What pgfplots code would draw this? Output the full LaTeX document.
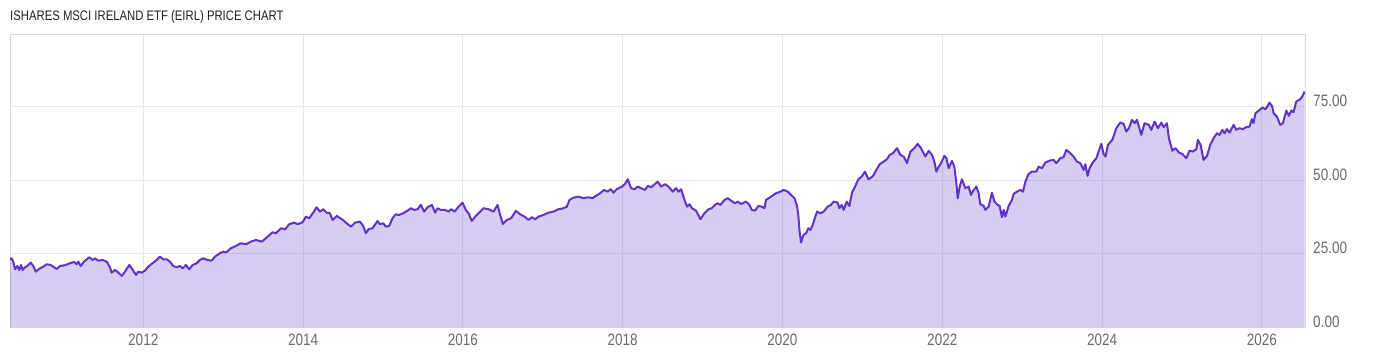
\documentclass[border=0pt]{standalone}
\usepackage{fontspec}
\setmainfont[FakeStretch=0.82]{Liberation Sans}
\usepackage{pgfplots}
\usepackage{pgfplotstable}
\pgfplotsset{compat=1.18}
\definecolor{linec}{RGB}{96,50,200}
\definecolor{gridc}{RGB}{232,232,232}
\definecolor{framec}{RGB}{215,215,215}
\definecolor{tickc}{RGB}{105,105,105}
\pgfplotstableread{
x y
2010.332 23.0
2010.353 23.42
2010.373 22.26
2010.395 19.67
2010.423 20.80
2010.448 19.43
2010.470 21.14
2010.491 19.43
2010.520 20.35
2010.549 20.80
2010.591 21.92
2010.624 20.80
2010.654 18.85
2010.707 20.01
2010.749 20.56
2010.791 21.38
2010.841 21.14
2010.874 20.56
2010.916 19.78
2010.958 20.80
2011.020 21.04
2011.083 21.72
2011.133 22.16
2011.167 21.38
2011.187 22.26
2011.217 20.80
2011.258 22.26
2011.324 23.76
2011.367 22.84
2011.396 23.42
2011.437 22.60
2011.492 22.84
2011.542 22.26
2011.583 20.35
2011.604 18.51
2011.646 19.43
2011.675 18.85
2011.730 17.39
2011.771 18.85
2011.825 21.14
2011.855 20.01
2011.909 17.73
2011.937 18.85
2011.980 18.51
2012.021 19.20
2012.062 20.56
2012.125 21.92
2012.167 22.84
2012.209 23.97
2012.250 23.08
2012.293 23.08
2012.334 22.26
2012.375 20.80
2012.418 20.35
2012.459 20.80
2012.493 20.01
2012.534 21.14
2012.575 19.67
2012.618 21.14
2012.668 21.72
2012.709 22.84
2012.751 23.42
2012.801 22.84
2012.856 22.60
2012.897 23.97
2012.959 25.13
2013.001 25.67
2013.035 25.40
2013.097 26.83
2013.160 27.62
2013.222 28.54
2013.285 28.20
2013.347 29.08
2013.410 29.66
2013.485 29.08
2013.556 30.79
2013.619 32.29
2013.660 31.95
2013.723 33.65
2013.776 33.31
2013.826 35.02
2013.889 35.56
2013.932 35.02
2013.994 35.70
2014.035 37.61
2014.077 37.06
2014.127 38.97
2014.169 40.81
2014.211 39.31
2014.252 40.13
2014.294 38.97
2014.336 38.77
2014.369 36.48
2014.423 37.85
2014.486 36.72
2014.536 35.56
2014.598 34.20
2014.652 35.56
2014.711 35.90
2014.752 34.44
2014.786 31.95
2014.820 33.31
2014.870 33.65
2014.932 36.14
2014.961 35.02
2015.003 35.36
2015.036 34.20
2015.077 34.44
2015.120 37.06
2015.161 38.42
2015.203 38.19
2015.253 38.77
2015.308 39.65
2015.349 40.47
2015.390 39.89
2015.433 40.13
2015.474 41.60
2015.515 39.31
2015.558 40.81
2015.612 41.60
2015.653 38.97
2015.683 40.47
2015.724 39.89
2015.778 39.89
2015.821 39.31
2015.853 40.13
2015.896 39.31
2015.946 41.02
2015.996 42.38
2016.037 39.89
2016.071 38.77
2016.112 36.14
2016.154 37.61
2016.196 38.77
2016.259 40.47
2016.321 40.13
2016.384 39.31
2016.434 41.60
2016.466 38.19
2016.500 35.12
2016.550 36.48
2016.604 37.06
2016.663 39.55
2016.716 38.42
2016.771 37.61
2016.821 36.48
2016.863 37.40
2016.904 36.72
2016.947 37.61
2017.009 38.19
2017.072 38.97
2017.134 39.31
2017.197 40.13
2017.259 40.47
2017.301 41.02
2017.335 43.30
2017.385 44.08
2017.447 44.43
2017.510 43.88
2017.572 44.22
2017.622 43.88
2017.664 44.66
2017.717 45.58
2017.767 46.71
2017.810 46.13
2017.851 46.95
2017.885 45.79
2017.926 46.95
2017.989 47.84
2018.030 48.76
2018.064 50.36
2018.105 47.29
2018.148 46.95
2018.189 47.84
2018.230 47.29
2018.280 46.71
2018.314 48.07
2018.356 47.63
2018.406 48.76
2018.439 49.54
2018.480 47.84
2018.531 48.65
2018.573 47.84
2018.627 46.13
2018.668 47.29
2018.698 46.13
2018.731 46.95
2018.773 43.30
2018.806 41.02
2018.836 41.83
2018.868 40.47
2018.918 39.65
2018.973 36.72
2019.023 38.77
2019.074 40.13
2019.115 40.47
2019.156 41.60
2019.190 42.17
2019.224 41.60
2019.274 43.30
2019.315 43.88
2019.356 43.06
2019.406 42.17
2019.440 42.72
2019.481 41.94
2019.544 42.72
2019.587 41.60
2019.615 39.89
2019.657 39.65
2019.699 41.25
2019.740 41.02
2019.774 40.47
2019.794 43.30
2019.857 44.43
2019.919 45.58
2019.974 46.13
2020.016 46.71
2020.066 46.13
2020.107 45.01
2020.150 43.88
2020.182 41.25
2020.200 37.61
2020.212 33.07
2020.232 28.74
2020.262 31.37
2020.295 31.95
2020.325 33.65
2020.350 33.07
2020.378 34.78
2020.432 39.31
2020.475 38.77
2020.516 39.31
2020.566 41.02
2020.607 41.60
2020.641 42.72
2020.691 42.38
2020.713 40.47
2020.741 41.60
2020.766 39.89
2020.804 42.72
2020.838 41.25
2020.870 45.79
2020.908 47.84
2020.950 50.36
2020.991 51.24
2021.033 52.95
2021.075 50.36
2021.116 51.04
2021.141 51.82
2021.175 53.53
2021.216 55.47
2021.266 56.36
2021.308 57.18
2021.342 58.64
2021.383 59.22
2021.433 60.93
2021.476 58.64
2021.517 58.06
2021.558 55.81
2021.601 59.77
2021.651 60.93
2021.692 62.39
2021.734 60.93
2021.788 58.06
2021.830 60.01
2021.871 58.64
2021.901 56.36
2021.926 52.95
2021.955 54.65
2021.984 55.81
2022.026 58.30
2022.051 57.52
2022.080 54.11
2022.121 56.60
2022.151 54.65
2022.176 48.99
2022.193 43.88
2022.218 47.84
2022.246 50.36
2022.289 47.29
2022.330 47.84
2022.359 45.01
2022.393 46.71
2022.427 47.84
2022.455 45.58
2022.476 41.83
2022.518 41.25
2022.539 39.89
2022.580 41.02
2022.622 45.79
2022.652 42.72
2022.693 41.60
2022.718 41.25
2022.747 37.40
2022.768 39.89
2022.789 37.61
2022.831 41.25
2022.872 43.30
2022.893 45.35
2022.935 46.13
2022.977 46.71
2023.010 46.13
2023.040 49.54
2023.081 52.17
2023.122 52.95
2023.177 52.95
2023.206 54.65
2023.247 54.11
2023.290 56.02
2023.343 56.70
2023.393 56.94
2023.427 55.81
2023.477 57.52
2023.518 57.86
2023.552 60.35
2023.602 59.22
2023.643 58.06
2023.685 56.36
2023.727 55.81
2023.769 53.53
2023.790 55.47
2023.819 51.48
2023.844 54.11
2023.878 55.81
2023.928 57.52
2023.990 62.39
2024.019 58.98
2024.044 58.06
2024.073 62.05
2024.128 63.76
2024.178 67.75
2024.228 69.66
2024.270 69.21
2024.303 66.59
2024.336 67.75
2024.373 70.58
2024.407 69.45
2024.436 70.58
2024.491 65.46
2024.532 69.45
2024.586 68.87
2024.616 67.17
2024.657 70.00
2024.699 67.75
2024.741 69.66
2024.770 68.09
2024.811 69.45
2024.836 64.34
2024.879 60.11
2024.920 60.93
2024.961 59.43
2025.004 58.98
2025.054 57.52
2025.095 60.11
2025.136 59.77
2025.179 60.59
2025.199 63.76
2025.233 62.05
2025.270 56.94
2025.312 58.30
2025.354 62.05
2025.396 64.34
2025.437 66.04
2025.471 65.46
2025.505 67.17
2025.533 66.04
2025.562 67.41
2025.596 66.25
2025.646 68.87
2025.679 67.17
2025.720 67.75
2025.762 67.41
2025.804 68.09
2025.846 68.29
2025.874 70.81
2025.895 69.45
2025.920 72.86
2025.962 73.75
2026.005 74.77
2026.046 74.22
2026.096 76.47
2026.130 75.11
2026.146 72.86
2026.188 71.70
2026.230 68.87
2026.263 69.45
2026.305 73.75
2026.337 71.94
2026.368 73.75
2026.396 73.20
2026.430 76.82
2026.480 77.63
2026.505 78.52
2026.534 80.22
}\eirl
\begin{document}
\begin{tikzpicture}[x=1bp,y=1bp]
\useasboundingbox (0,0) rectangle (1400,357);
\node[anchor=base west, inner sep=0pt, font=\fontsize{13.8bp}{15bp}\selectfont, text=black!87] at (10,336.3) {ISHARES MSCI IRELAND ETF (EIRL) PRICE CHART};
\begin{axis}[
  at={(10bp,30bp)}, anchor=south west,
  scale only axis, width=1295bp, height=292bp,
  xmin=2010.332, xmax=2026.54, ymin=0, ymax=99.5,
  xtick={2012,2014,...,2026},
  ytick={0,25,50,75},
  grid=major,
  major grid style={draw=gridc, line width=1bp},
  axis line style={draw=framec, line width=1bp},
  major tick length=0pt,
  yticklabel pos=right,
  /pgf/number format/assume math mode=true,
  xticklabel={\pgfmathprintnumber[1000 sep={},fixed,precision=0]{\tick}},
  yticklabel={\pgfmathprintnumber[fixed,fixed zerofill,precision=2]{\tick}},
  xticklabel style={font=\fontsize{16.5bp}{18bp}\selectfont, text=tickc, anchor=north, inner sep=0pt, yshift=-7bp},
  yticklabel style={font=\fontsize{16.5bp}{18bp}\selectfont, text=tickc, anchor=base west, inner sep=0pt, xshift=8bp},
]
\addplot[draw=none, fill=linec, fill opacity=0.25] table[x=x,y=y]{\eirl} \closedcycle;
\addplot[draw=linec, line width=2bp, line join=round, mark=none] table[x=x,y=y]{\eirl};
\end{axis}
\end{tikzpicture}
\end{document}
